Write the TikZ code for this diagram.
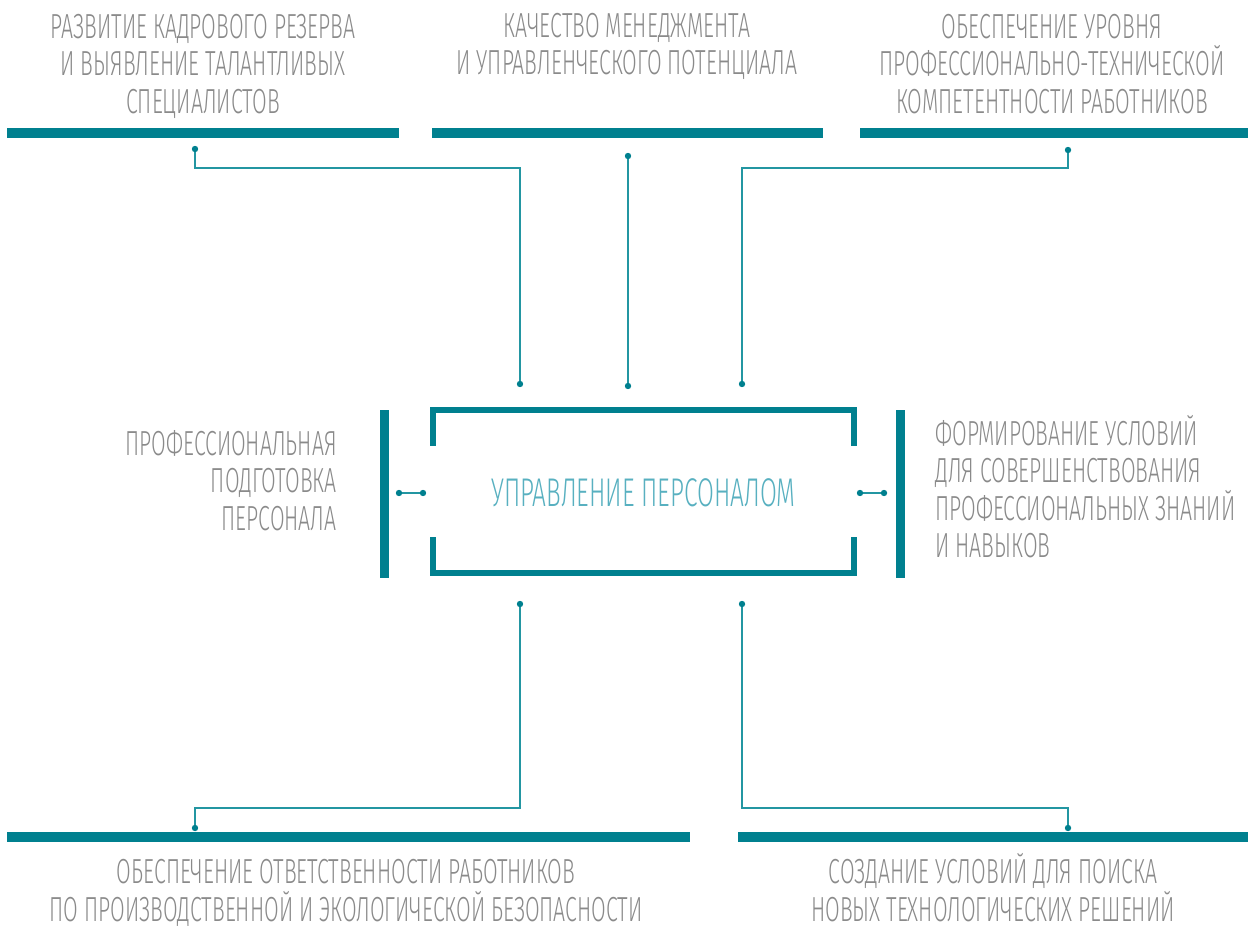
\documentclass[tikz,border=0pt]{standalone}
\usepackage{fontspec}
\setmainfont[FakeStretch=0.61, UprightFont={* Light}]{Fira Sans}
\usetikzlibrary{positioning, calc}

\definecolor{teal1}{RGB}{0,128,143}
\definecolor{teal2}{RGB}{35,150,162}
\definecolor{hubtext}{RGB}{88,176,192}
\definecolor{greytext}{RGB}{138,138,138}

\begin{document}
\begin{tikzpicture}[
    x=0.02cm, y=-0.02cm,
    hbar/.style={rectangle, fill=teal1, inner sep=0pt, minimum height=0.2cm, minimum width=#1},
    vbar/.style={rectangle, fill=teal1, inner sep=0pt, minimum width=0.18cm, minimum height=3.36cm},
    topic/.style={align=#1, text=greytext, inner sep=0pt, anchor=base, font=\fontsize{19.8}{21.3}\selectfont},
    link/.style={draw=teal2, line width=0.9pt},
    joint/.style={fill=teal1, radius=3.2}
]
\useasboundingbox (0,0) rectangle (1248,926);

% Bars
\node[hbar=7.84cm] (b1) at (203,133) {};
\node[hbar=7.82cm] (b2) at (627.5,133) {};
\node[hbar=7.76cm] (b3) at (1054,133) {};
\node[hbar=13.66cm] (b4) at (348.5,837) {};
\node[hbar=10.2cm] (b5) at (993,837) {};
\node[vbar] (lbar) at (384,494) {};
\node[vbar] (rbar) at (900,494) {};

% Centre
\node[minimum width=8.42cm, minimum height=3.26cm, inner sep=0pt] (hub) at (643.5,491.5) {};
\node[text=hubtext, inner sep=0pt, anchor=base, font=\fontsize{22.8}{26}\selectfont]
    (hubname) at (643.5,506.5) {УПРАВЛЕНИЕ ПЕРСОНАЛОМ};
\draw[teal1, line width=0.12cm] ($(hub.north west)+(0,36)$) -- (hub.north west) -- (hub.north east) -- ++(0,36);
\draw[teal1, line width=0.12cm] ($(hub.south west)+(0,-36)$) -- (hub.south west) -- (hub.south east) -- ++(0,-36);

% Texts (placed at the baseline of their last line)
\node[topic=center] (t1) at (203,113) {РАЗВИТИЕ КАДРОВОГО РЕЗЕРВА\\И ВЫЯВЛЕНИЕ ТАЛАНТЛИВЫХ\\СПЕЦИАЛИСТОВ};
\node[topic=center] (t2) at (627,75) {КАЧЕСТВО МЕНЕДЖМЕНТА\\И УПРАВЛЕНЧЕСКОГО ПОТЕНЦИАЛА};
\node[topic=center] (t3) at (1052,113) {ОБЕСПЕЧЕНИЕ УРОВНЯ\\ПРОФЕССИОНАЛЬНО-ТЕХНИЧЕСКОЙ\\КОМПЕТЕНТНОСТИ РАБОТНИКОВ};
\node[topic=right, anchor=base east] (t4) at (337,530) {ПРОФЕССИОНАЛЬНАЯ\\ПОДГОТОВКА\\ПЕРСОНАЛА};
\node[topic=left, anchor=base west] (t5) at (935,557.5) {ФОРМИРОВАНИЕ УСЛОВИЙ\\ДЛЯ СОВЕРШЕНСТВОВАНИЯ\\ПРОФЕССИОНАЛЬНЫХ ЗНАНИЙ\\И НАВЫКОВ};
\node[topic=center] (t6) at (346,921) {ОБЕСПЕЧЕНИЕ ОТВЕТСТВЕННОСТИ РАБОТНИКОВ\\ПО ПРОИЗВОДСТВЕННОЙ И ЭКОЛОГИЧЕСКОЙ БЕЗОПАСНОСТИ};
\node[topic=center] (t7) at (993,921) {СОЗДАНИЕ УСЛОВИЙ ДЛЯ ПОИСКА\\НОВЫХ ТЕХНОЛОГИЧЕСКИХ РЕШЕНИЙ};

% Joints
\coordinate (j1) at (195,149);
\coordinate (j2) at (628,156);
\coordinate (j3) at (1068,150);
\coordinate (h1) at (520,384);
\coordinate (h2) at (628,386);
\coordinate (h3) at (742,384);
\coordinate (h4) at (520,604);
\coordinate (h5) at (742,604);
\coordinate (j4) at (195,828);
\coordinate (j5) at (1068,828);
\coordinate (l1) at (399,493);
\coordinate (l2) at (423,493);
\coordinate (r1) at (860,493);
\coordinate (r2) at (884,493);

% Links
\draw[link] (j1) -- ++(0,19) -| (h1);
\draw[link] (j2) -- (h2);
\draw[link] (j3) -- ++(0,18) -| (h3);
\draw[link] (h4) -- ++(0,204) -| (j4);
\draw[link] (h5) -- ++(0,204) -| (j5);
\draw[link] (l1) -- (l2);
\draw[link] (r1) -- (r2);
\foreach \p in {j1,j2,j3,j4,j5,h1,h2,h3,h4,h5,l1,l2,r1,r2}
    \fill[joint] (\p) circle;

\end{tikzpicture}
\end{document}
